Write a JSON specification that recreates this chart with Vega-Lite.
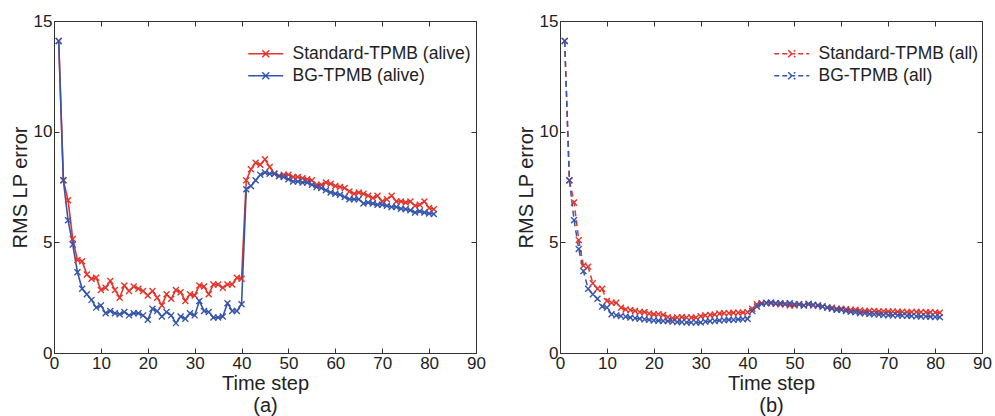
{
  "$schema": "https://vega.github.io/schema/vega-lite/v6.json",
  "padding": {"left": 9, "top": 11, "right": 0, "bottom": 0},
  "spacing": 84,
  "bounds": "flush",
  "datasets": {
    "a": [
      {"series":"Standard-TPMB (alive)","t":1,"v":14.1},{"series":"Standard-TPMB (alive)","t":2,"v":7.8},{"series":"Standard-TPMB (alive)","t":3,"v":6.9},{"series":"Standard-TPMB (alive)","t":4,"v":5.15},{"series":"Standard-TPMB (alive)","t":5,"v":4.2},{"series":"Standard-TPMB (alive)","t":6,"v":4.15},{"series":"Standard-TPMB (alive)","t":7,"v":3.55},{"series":"Standard-TPMB (alive)","t":8,"v":3.35},{"series":"Standard-TPMB (alive)","t":9,"v":3.4},{"series":"Standard-TPMB (alive)","t":10,"v":2.85},
      {"series":"Standard-TPMB (alive)","t":11,"v":2.95},{"series":"Standard-TPMB (alive)","t":12,"v":3.25},{"series":"Standard-TPMB (alive)","t":13,"v":2.85},{"series":"Standard-TPMB (alive)","t":14,"v":2.5},{"series":"Standard-TPMB (alive)","t":15,"v":3.05},{"series":"Standard-TPMB (alive)","t":16,"v":2.8},{"series":"Standard-TPMB (alive)","t":17,"v":3.0},{"series":"Standard-TPMB (alive)","t":18,"v":2.9},{"series":"Standard-TPMB (alive)","t":19,"v":2.8},{"series":"Standard-TPMB (alive)","t":20,"v":2.6},
      {"series":"Standard-TPMB (alive)","t":21,"v":2.8},{"series":"Standard-TPMB (alive)","t":22,"v":2.5},{"series":"Standard-TPMB (alive)","t":23,"v":2.15},{"series":"Standard-TPMB (alive)","t":24,"v":2.65},{"series":"Standard-TPMB (alive)","t":25,"v":2.45},{"series":"Standard-TPMB (alive)","t":26,"v":2.85},{"series":"Standard-TPMB (alive)","t":27,"v":2.75},{"series":"Standard-TPMB (alive)","t":28,"v":2.35},{"series":"Standard-TPMB (alive)","t":29,"v":2.65},{"series":"Standard-TPMB (alive)","t":30,"v":2.6},
      {"series":"Standard-TPMB (alive)","t":31,"v":3.05},{"series":"Standard-TPMB (alive)","t":32,"v":3.0},{"series":"Standard-TPMB (alive)","t":33,"v":2.65},{"series":"Standard-TPMB (alive)","t":34,"v":3.1},{"series":"Standard-TPMB (alive)","t":35,"v":3.1},{"series":"Standard-TPMB (alive)","t":36,"v":2.95},{"series":"Standard-TPMB (alive)","t":37,"v":3.1},{"series":"Standard-TPMB (alive)","t":38,"v":3.1},{"series":"Standard-TPMB (alive)","t":39,"v":3.4},{"series":"Standard-TPMB (alive)","t":40,"v":3.35},
      {"series":"Standard-TPMB (alive)","t":41,"v":7.8},{"series":"Standard-TPMB (alive)","t":42,"v":8.3},{"series":"Standard-TPMB (alive)","t":43,"v":8.6},{"series":"Standard-TPMB (alive)","t":44,"v":8.5},{"series":"Standard-TPMB (alive)","t":45,"v":8.75},{"series":"Standard-TPMB (alive)","t":46,"v":8.4},{"series":"Standard-TPMB (alive)","t":47,"v":8.1},{"series":"Standard-TPMB (alive)","t":48,"v":8.0},{"series":"Standard-TPMB (alive)","t":49,"v":8.05},{"series":"Standard-TPMB (alive)","t":50,"v":8.05},
      {"series":"Standard-TPMB (alive)","t":51,"v":7.95},{"series":"Standard-TPMB (alive)","t":52,"v":7.95},{"series":"Standard-TPMB (alive)","t":53,"v":7.9},{"series":"Standard-TPMB (alive)","t":54,"v":7.85},{"series":"Standard-TPMB (alive)","t":55,"v":7.8},{"series":"Standard-TPMB (alive)","t":56,"v":7.6},{"series":"Standard-TPMB (alive)","t":57,"v":7.6},{"series":"Standard-TPMB (alive)","t":58,"v":7.7},{"series":"Standard-TPMB (alive)","t":59,"v":7.65},{"series":"Standard-TPMB (alive)","t":60,"v":7.55},
      {"series":"Standard-TPMB (alive)","t":61,"v":7.5},{"series":"Standard-TPMB (alive)","t":62,"v":7.45},{"series":"Standard-TPMB (alive)","t":63,"v":7.3},{"series":"Standard-TPMB (alive)","t":64,"v":7.2},{"series":"Standard-TPMB (alive)","t":65,"v":7.25},{"series":"Standard-TPMB (alive)","t":66,"v":7.2},{"series":"Standard-TPMB (alive)","t":67,"v":7.1},{"series":"Standard-TPMB (alive)","t":68,"v":7.0},{"series":"Standard-TPMB (alive)","t":69,"v":7.1},{"series":"Standard-TPMB (alive)","t":70,"v":6.85},
      {"series":"Standard-TPMB (alive)","t":71,"v":6.95},{"series":"Standard-TPMB (alive)","t":72,"v":7.1},{"series":"Standard-TPMB (alive)","t":73,"v":6.85},{"series":"Standard-TPMB (alive)","t":74,"v":6.85},{"series":"Standard-TPMB (alive)","t":75,"v":6.8},{"series":"Standard-TPMB (alive)","t":76,"v":6.85},{"series":"Standard-TPMB (alive)","t":77,"v":6.65},{"series":"Standard-TPMB (alive)","t":78,"v":6.7},{"series":"Standard-TPMB (alive)","t":79,"v":6.85},{"series":"Standard-TPMB (alive)","t":80,"v":6.55},{"series":"Standard-TPMB (alive)","t":81,"v":6.5},
      {"series":"BG-TPMB (alive)","t":1,"v":14.1},{"series":"BG-TPMB (alive)","t":2,"v":7.8},{"series":"BG-TPMB (alive)","t":3,"v":6.0},{"series":"BG-TPMB (alive)","t":4,"v":4.9},{"series":"BG-TPMB (alive)","t":5,"v":3.65},{"series":"BG-TPMB (alive)","t":6,"v":2.9},{"series":"BG-TPMB (alive)","t":7,"v":2.65},{"series":"BG-TPMB (alive)","t":8,"v":2.4},{"series":"BG-TPMB (alive)","t":9,"v":2.05},{"series":"BG-TPMB (alive)","t":10,"v":2.15},
      {"series":"BG-TPMB (alive)","t":11,"v":1.8},{"series":"BG-TPMB (alive)","t":12,"v":1.9},{"series":"BG-TPMB (alive)","t":13,"v":1.8},{"series":"BG-TPMB (alive)","t":14,"v":1.75},{"series":"BG-TPMB (alive)","t":15,"v":1.85},{"series":"BG-TPMB (alive)","t":16,"v":1.7},{"series":"BG-TPMB (alive)","t":17,"v":1.8},{"series":"BG-TPMB (alive)","t":18,"v":1.8},{"series":"BG-TPMB (alive)","t":19,"v":1.7},{"series":"BG-TPMB (alive)","t":20,"v":1.5},
      {"series":"BG-TPMB (alive)","t":21,"v":2.0},{"series":"BG-TPMB (alive)","t":22,"v":1.9},{"series":"BG-TPMB (alive)","t":23,"v":1.65},{"series":"BG-TPMB (alive)","t":24,"v":1.85},{"series":"BG-TPMB (alive)","t":25,"v":1.7},{"series":"BG-TPMB (alive)","t":26,"v":1.35},{"series":"BG-TPMB (alive)","t":27,"v":1.65},{"series":"BG-TPMB (alive)","t":28,"v":1.55},{"series":"BG-TPMB (alive)","t":29,"v":1.8},{"series":"BG-TPMB (alive)","t":30,"v":1.7},
      {"series":"BG-TPMB (alive)","t":31,"v":2.35},{"series":"BG-TPMB (alive)","t":32,"v":1.9},{"series":"BG-TPMB (alive)","t":33,"v":1.85},{"series":"BG-TPMB (alive)","t":34,"v":1.6},{"series":"BG-TPMB (alive)","t":35,"v":1.6},{"series":"BG-TPMB (alive)","t":36,"v":1.65},{"series":"BG-TPMB (alive)","t":37,"v":2.25},{"series":"BG-TPMB (alive)","t":38,"v":1.9},{"series":"BG-TPMB (alive)","t":39,"v":1.9},{"series":"BG-TPMB (alive)","t":40,"v":2.2},
      {"series":"BG-TPMB (alive)","t":41,"v":7.4},{"series":"BG-TPMB (alive)","t":42,"v":7.55},{"series":"BG-TPMB (alive)","t":43,"v":7.8},{"series":"BG-TPMB (alive)","t":44,"v":8.05},{"series":"BG-TPMB (alive)","t":45,"v":8.15},{"series":"BG-TPMB (alive)","t":46,"v":8.1},{"series":"BG-TPMB (alive)","t":47,"v":8.1},{"series":"BG-TPMB (alive)","t":48,"v":8.0},{"series":"BG-TPMB (alive)","t":49,"v":7.95},{"series":"BG-TPMB (alive)","t":50,"v":7.85},
      {"series":"BG-TPMB (alive)","t":51,"v":7.75},{"series":"BG-TPMB (alive)","t":52,"v":7.75},{"series":"BG-TPMB (alive)","t":53,"v":7.7},{"series":"BG-TPMB (alive)","t":54,"v":7.7},{"series":"BG-TPMB (alive)","t":55,"v":7.6},{"series":"BG-TPMB (alive)","t":56,"v":7.5},{"series":"BG-TPMB (alive)","t":57,"v":7.45},{"series":"BG-TPMB (alive)","t":58,"v":7.35},{"series":"BG-TPMB (alive)","t":59,"v":7.25},{"series":"BG-TPMB (alive)","t":60,"v":7.2},
      {"series":"BG-TPMB (alive)","t":61,"v":7.15},{"series":"BG-TPMB (alive)","t":62,"v":7.05},{"series":"BG-TPMB (alive)","t":63,"v":6.95},{"series":"BG-TPMB (alive)","t":64,"v":6.95},{"series":"BG-TPMB (alive)","t":65,"v":6.95},{"series":"BG-TPMB (alive)","t":66,"v":6.75},{"series":"BG-TPMB (alive)","t":67,"v":6.8},{"series":"BG-TPMB (alive)","t":68,"v":6.75},{"series":"BG-TPMB (alive)","t":69,"v":6.7},{"series":"BG-TPMB (alive)","t":70,"v":6.7},
      {"series":"BG-TPMB (alive)","t":71,"v":6.65},{"series":"BG-TPMB (alive)","t":72,"v":6.6},{"series":"BG-TPMB (alive)","t":73,"v":6.6},{"series":"BG-TPMB (alive)","t":74,"v":6.52},{"series":"BG-TPMB (alive)","t":75,"v":6.5},{"series":"BG-TPMB (alive)","t":76,"v":6.45},{"series":"BG-TPMB (alive)","t":77,"v":6.35},{"series":"BG-TPMB (alive)","t":78,"v":6.4},{"series":"BG-TPMB (alive)","t":79,"v":6.35},{"series":"BG-TPMB (alive)","t":80,"v":6.3},{"series":"BG-TPMB (alive)","t":81,"v":6.28}
    ],
    "b": [
      {"series":"Standard-TPMB (all)","t":1,"v":14.1},{"series":"Standard-TPMB (all)","t":2,"v":7.8},{"series":"Standard-TPMB (all)","t":3,"v":6.8},{"series":"Standard-TPMB (all)","t":4,"v":5.1},{"series":"Standard-TPMB (all)","t":5,"v":3.95},{"series":"Standard-TPMB (all)","t":6,"v":3.9},{"series":"Standard-TPMB (all)","t":7,"v":3.15},{"series":"Standard-TPMB (all)","t":8,"v":2.9},{"series":"Standard-TPMB (all)","t":9,"v":2.9},{"series":"Standard-TPMB (all)","t":10,"v":2.35},
      {"series":"Standard-TPMB (all)","t":11,"v":2.27},{"series":"Standard-TPMB (all)","t":12,"v":2.27},{"series":"Standard-TPMB (all)","t":13,"v":2.05},{"series":"Standard-TPMB (all)","t":14,"v":1.97},{"series":"Standard-TPMB (all)","t":15,"v":1.94},{"series":"Standard-TPMB (all)","t":16,"v":1.9},{"series":"Standard-TPMB (all)","t":17,"v":1.85},{"series":"Standard-TPMB (all)","t":18,"v":1.85},{"series":"Standard-TPMB (all)","t":19,"v":1.78},{"series":"Standard-TPMB (all)","t":20,"v":1.75},
      {"series":"Standard-TPMB (all)","t":21,"v":1.75},{"series":"Standard-TPMB (all)","t":22,"v":1.72},{"series":"Standard-TPMB (all)","t":23,"v":1.62},{"series":"Standard-TPMB (all)","t":24,"v":1.57},{"series":"Standard-TPMB (all)","t":25,"v":1.6},{"series":"Standard-TPMB (all)","t":26,"v":1.62},{"series":"Standard-TPMB (all)","t":27,"v":1.6},{"series":"Standard-TPMB (all)","t":28,"v":1.6},{"series":"Standard-TPMB (all)","t":29,"v":1.6},{"series":"Standard-TPMB (all)","t":30,"v":1.66},
      {"series":"Standard-TPMB (all)","t":31,"v":1.7},{"series":"Standard-TPMB (all)","t":32,"v":1.72},{"series":"Standard-TPMB (all)","t":33,"v":1.74},{"series":"Standard-TPMB (all)","t":34,"v":1.78},{"series":"Standard-TPMB (all)","t":35,"v":1.8},{"series":"Standard-TPMB (all)","t":36,"v":1.8},{"series":"Standard-TPMB (all)","t":37,"v":1.82},{"series":"Standard-TPMB (all)","t":38,"v":1.82},{"series":"Standard-TPMB (all)","t":39,"v":1.83},{"series":"Standard-TPMB (all)","t":40,"v":1.84},
      {"series":"Standard-TPMB (all)","t":41,"v":2.0},{"series":"Standard-TPMB (all)","t":42,"v":2.2},{"series":"Standard-TPMB (all)","t":43,"v":2.25},{"series":"Standard-TPMB (all)","t":44,"v":2.27},{"series":"Standard-TPMB (all)","t":45,"v":2.25},{"series":"Standard-TPMB (all)","t":46,"v":2.22},{"series":"Standard-TPMB (all)","t":47,"v":2.2},{"series":"Standard-TPMB (all)","t":48,"v":2.2},{"series":"Standard-TPMB (all)","t":49,"v":2.15},{"series":"Standard-TPMB (all)","t":50,"v":2.15},
      {"series":"Standard-TPMB (all)","t":51,"v":2.2},{"series":"Standard-TPMB (all)","t":52,"v":2.15},{"series":"Standard-TPMB (all)","t":53,"v":2.2},{"series":"Standard-TPMB (all)","t":54,"v":2.15},{"series":"Standard-TPMB (all)","t":55,"v":2.15},{"series":"Standard-TPMB (all)","t":56,"v":2.1},{"series":"Standard-TPMB (all)","t":57,"v":2.05},{"series":"Standard-TPMB (all)","t":58,"v":2.05},{"series":"Standard-TPMB (all)","t":59,"v":2.0},{"series":"Standard-TPMB (all)","t":60,"v":2.0},
      {"series":"Standard-TPMB (all)","t":61,"v":1.98},{"series":"Standard-TPMB (all)","t":62,"v":1.95},{"series":"Standard-TPMB (all)","t":63,"v":1.95},{"series":"Standard-TPMB (all)","t":64,"v":1.92},{"series":"Standard-TPMB (all)","t":65,"v":1.9},{"series":"Standard-TPMB (all)","t":66,"v":1.9},{"series":"Standard-TPMB (all)","t":67,"v":1.9},{"series":"Standard-TPMB (all)","t":68,"v":1.88},{"series":"Standard-TPMB (all)","t":69,"v":1.88},{"series":"Standard-TPMB (all)","t":70,"v":1.87},
      {"series":"Standard-TPMB (all)","t":71,"v":1.87},{"series":"Standard-TPMB (all)","t":72,"v":1.86},{"series":"Standard-TPMB (all)","t":73,"v":1.86},{"series":"Standard-TPMB (all)","t":74,"v":1.85},{"series":"Standard-TPMB (all)","t":75,"v":1.85},{"series":"Standard-TPMB (all)","t":76,"v":1.85},{"series":"Standard-TPMB (all)","t":77,"v":1.85},{"series":"Standard-TPMB (all)","t":78,"v":1.84},{"series":"Standard-TPMB (all)","t":79,"v":1.84},{"series":"Standard-TPMB (all)","t":80,"v":1.83},{"series":"Standard-TPMB (all)","t":81,"v":1.82},
      {"series":"BG-TPMB (all)","t":1,"v":14.1},{"series":"BG-TPMB (all)","t":2,"v":7.8},{"series":"BG-TPMB (all)","t":3,"v":6.0},{"series":"BG-TPMB (all)","t":4,"v":4.7},{"series":"BG-TPMB (all)","t":5,"v":3.7},{"series":"BG-TPMB (all)","t":6,"v":2.9},{"series":"BG-TPMB (all)","t":7,"v":2.65},{"series":"BG-TPMB (all)","t":8,"v":2.45},{"series":"BG-TPMB (all)","t":9,"v":2.1},{"series":"BG-TPMB (all)","t":10,"v":2.05},
      {"series":"BG-TPMB (all)","t":11,"v":1.75},{"series":"BG-TPMB (all)","t":12,"v":1.7},{"series":"BG-TPMB (all)","t":13,"v":1.67},{"series":"BG-TPMB (all)","t":14,"v":1.64},{"series":"BG-TPMB (all)","t":15,"v":1.6},{"series":"BG-TPMB (all)","t":16,"v":1.57},{"series":"BG-TPMB (all)","t":17,"v":1.55},{"series":"BG-TPMB (all)","t":18,"v":1.52},{"series":"BG-TPMB (all)","t":19,"v":1.5},{"series":"BG-TPMB (all)","t":20,"v":1.47},
      {"series":"BG-TPMB (all)","t":21,"v":1.46},{"series":"BG-TPMB (all)","t":22,"v":1.45},{"series":"BG-TPMB (all)","t":23,"v":1.44},{"series":"BG-TPMB (all)","t":24,"v":1.42},{"series":"BG-TPMB (all)","t":25,"v":1.4},{"series":"BG-TPMB (all)","t":26,"v":1.4},{"series":"BG-TPMB (all)","t":27,"v":1.38},{"series":"BG-TPMB (all)","t":28,"v":1.38},{"series":"BG-TPMB (all)","t":29,"v":1.38},{"series":"BG-TPMB (all)","t":30,"v":1.38},
      {"series":"BG-TPMB (all)","t":31,"v":1.42},{"series":"BG-TPMB (all)","t":32,"v":1.44},{"series":"BG-TPMB (all)","t":33,"v":1.45},{"series":"BG-TPMB (all)","t":34,"v":1.47},{"series":"BG-TPMB (all)","t":35,"v":1.48},{"series":"BG-TPMB (all)","t":36,"v":1.5},{"series":"BG-TPMB (all)","t":37,"v":1.5},{"series":"BG-TPMB (all)","t":38,"v":1.52},{"series":"BG-TPMB (all)","t":39,"v":1.53},{"series":"BG-TPMB (all)","t":40,"v":1.54},
      {"series":"BG-TPMB (all)","t":41,"v":1.9},{"series":"BG-TPMB (all)","t":42,"v":2.1},{"series":"BG-TPMB (all)","t":43,"v":2.22},{"series":"BG-TPMB (all)","t":44,"v":2.25},{"series":"BG-TPMB (all)","t":45,"v":2.28},{"series":"BG-TPMB (all)","t":46,"v":2.25},{"series":"BG-TPMB (all)","t":47,"v":2.25},{"series":"BG-TPMB (all)","t":48,"v":2.22},{"series":"BG-TPMB (all)","t":49,"v":2.25},{"series":"BG-TPMB (all)","t":50,"v":2.2},
      {"series":"BG-TPMB (all)","t":51,"v":2.2},{"series":"BG-TPMB (all)","t":52,"v":2.15},{"series":"BG-TPMB (all)","t":53,"v":2.22},{"series":"BG-TPMB (all)","t":54,"v":2.18},{"series":"BG-TPMB (all)","t":55,"v":2.15},{"series":"BG-TPMB (all)","t":56,"v":2.1},{"series":"BG-TPMB (all)","t":57,"v":2.05},{"series":"BG-TPMB (all)","t":58,"v":2.0},{"series":"BG-TPMB (all)","t":59,"v":1.95},{"series":"BG-TPMB (all)","t":60,"v":1.95},
      {"series":"BG-TPMB (all)","t":61,"v":1.9},{"series":"BG-TPMB (all)","t":62,"v":1.86},{"series":"BG-TPMB (all)","t":63,"v":1.84},{"series":"BG-TPMB (all)","t":64,"v":1.8},{"series":"BG-TPMB (all)","t":65,"v":1.8},{"series":"BG-TPMB (all)","t":66,"v":1.76},{"series":"BG-TPMB (all)","t":67,"v":1.75},{"series":"BG-TPMB (all)","t":68,"v":1.74},{"series":"BG-TPMB (all)","t":69,"v":1.72},{"series":"BG-TPMB (all)","t":70,"v":1.71},
      {"series":"BG-TPMB (all)","t":71,"v":1.7},{"series":"BG-TPMB (all)","t":72,"v":1.7},{"series":"BG-TPMB (all)","t":73,"v":1.69},{"series":"BG-TPMB (all)","t":74,"v":1.68},{"series":"BG-TPMB (all)","t":75,"v":1.67},{"series":"BG-TPMB (all)","t":76,"v":1.66},{"series":"BG-TPMB (all)","t":77,"v":1.65},{"series":"BG-TPMB (all)","t":78,"v":1.65},{"series":"BG-TPMB (all)","t":79,"v":1.64},{"series":"BG-TPMB (all)","t":80,"v":1.63},{"series":"BG-TPMB (all)","t":81,"v":1.62}
    ]
  },
  "hconcat": [
    {
      "width": 422, "height": 332,
      "data": {"name": "a"},
      "layer": [
        {
          "mark": {"type": "line", "strokeWidth": 1.6, "point": {"shape": "M-1,-1L1,1M-1,1L1,-1", "filled": false, "size": 36, "strokeWidth": 1.4}},
          "encoding": {
            "x": {"field": "t", "type": "quantitative", "scale": {"domain": [0, 90], "nice": false},
                  "axis": {"values": [0,10,20,30,40,50,60,70,80,90], "title": ["Time step", "(a)"], "titlePadding": 2, "titleLineHeight": 22, "labelPadding": 7, "labelFlush": false, "labelOverlap": false}},
            "y": {"field": "v", "type": "quantitative", "scale": {"domain": [0, 15], "nice": false},
                  "axis": {"values": [0,5,10,15], "title": "RMS LP error", "titlePadding": 3, "labelPadding": 7, "labelOverlap": false}},
            "color": {"field": "series", "type": "nominal",
                      "scale": {"domain": ["Standard-TPMB (alive)", "BG-TPMB (alive)"], "range": ["#e5342b", "#3656ad"]},
                      "legend": {"orient": "none", "legendX": 191, "legendY": 24, "title": null, "labelFontSize": 17.5, "labelColor": "#222222", "labelLimit": 0,
                                 "symbolType": "M-3.5,0L3.5,0M-0.7,-0.7L0.7,0.7M-0.7,0.7L0.7,-0.7", "symbolSize": 100, "symbolStrokeWidth": 1.5,
                                 "symbolOffset": 12, "labelOffset": 18, "rowPadding": 3}}
          }
        },
        {
          "mark": {"type": "point", "opacity": 0},
          "encoding": {
            "x": {"field": "t", "type": "quantitative", "axis": {"orient": "top", "values": [0,10,20,30,40,50,60,70,80,90], "labels": false, "title": null, "domain": false}},
            "y": {"field": "v", "type": "quantitative", "axis": {"orient": "right", "values": [0,5,10,15], "labels": false, "title": null, "domain": false}}
          }
        }
      ],
      "resolve": {"axis": {"x": "independent", "y": "independent"}}
    },
    {
      "width": 422, "height": 332,
      "data": {"name": "b"},
      "layer": [
        {
          "mark": {"type": "line", "strokeWidth": 1.5, "strokeDash": [6, 4], "point": {"shape": "M-1,-1L1,1M-1,1L1,-1", "filled": false, "size": 36, "strokeWidth": 1.4, "strokeDash": [1, 0]}},
          "encoding": {
            "x": {"field": "t", "type": "quantitative", "scale": {"domain": [0, 90], "nice": false},
                  "axis": {"values": [0,10,20,30,40,50,60,70,80,90], "title": ["Time step", "(b)"], "titlePadding": 2, "titleLineHeight": 22, "labelPadding": 7, "labelFlush": false, "labelOverlap": false}},
            "y": {"field": "v", "type": "quantitative", "scale": {"domain": [0, 15], "nice": false},
                  "axis": {"values": [0,5,10,15], "title": "RMS LP error", "titlePadding": 3, "labelPadding": 7, "labelOverlap": false}},
            "color": {"field": "series", "type": "nominal",
                      "scale": {"domain": ["Standard-TPMB (all)", "BG-TPMB (all)"], "range": ["#e5342b", "#3656ad"]},
                      "legend": {"orient": "none", "legendX": 211, "legendY": 24, "title": null, "labelFontSize": 17.5, "labelColor": "#222222", "labelLimit": 0,
                                 "symbolType": "M-3.5,0L3.5,0M-0.7,-0.7L0.7,0.7M-0.7,0.7L0.7,-0.7", "symbolSize": 100, "symbolStrokeWidth": 1.5,
                                 "symbolDash": [5, 3], "symbolOffset": 12, "labelOffset": 18, "rowPadding": 3}}
          }
        },
        {
          "mark": {"type": "point", "opacity": 0},
          "encoding": {
            "x": {"field": "t", "type": "quantitative", "axis": {"orient": "top", "values": [0,10,20,30,40,50,60,70,80,90], "labels": false, "title": null, "domain": false}},
            "y": {"field": "v", "type": "quantitative", "axis": {"orient": "right", "values": [0,5,10,15], "labels": false, "title": null, "domain": false}}
          }
        }
      ],
      "resolve": {"axis": {"x": "independent", "y": "independent"}}
    }
  ],
  "resolve": {"scale": {"color": "independent"}, "legend": {"color": "independent"}},
  "config": {
    "font": "Liberation Sans",
    "view": {"stroke": "#333333", "strokeWidth": 1},
    "axis": {"grid": false, "domainColor": "#333333", "domainWidth": 1, "tickColor": "#333333", "tickSize": -5, "tickWidth": 1,
             "labelFontSize": 17, "labelColor": "#222222", "labelPadding": 4,
             "titleFontSize": 20, "titleFontWeight": "normal", "titleColor": "#222222"},
    "legend": {"labelFont": "Liberation Sans"}
  }
}
